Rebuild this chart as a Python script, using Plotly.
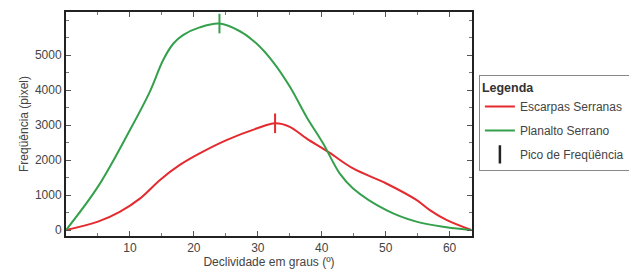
import plotly.graph_objects as go

x_esc = [0, 5, 8.4, 11.6, 14.7, 17.8, 20.9, 25.1, 29.8, 32.7, 35, 37.6, 41.2, 44.9, 50.1, 54.8, 56.9, 59.5, 63.4]
y_esc = [0, 240, 520, 905, 1430, 1860, 2190, 2570, 2900, 3050, 2950, 2620, 2210, 1760, 1330, 860, 570, 290, 0]

x_pla = [0, 5, 10, 13.1, 15.2, 16.8, 18.3, 20.9, 24, 27.2, 29.8, 32.4, 35, 37.6, 40.2, 42.8, 44.9, 50.1, 54.8, 59.5, 63.4]
y_pla = [0, 1240, 2860, 3950, 4860, 5330, 5570, 5790, 5900, 5680, 5330, 4800, 4100, 3240, 2480, 1620, 1190, 570, 240, 80, 0]

peak_x = [32.7, 24]
peak_y = [3050, 5900]

RED = "#e42a2f"
GREEN = "#34a04c"
peak_colors = [RED, GREEN]
FONT = "Liberation Sans, Arial, sans-serif"

fig = go.Figure()
fig.add_trace(go.Scatter(x=x_esc, y=y_esc, mode="lines", name="Escarpas Serranas", legendgroup="a",
                         line=dict(color=RED, width=2, shape="spline", smoothing=1.0)))
fig.add_trace(go.Scatter(x=x_pla, y=y_pla, mode="lines", name="Planalto Serrano", legendgroup="b",
                         line=dict(color=GREEN, width=2, shape="spline", smoothing=1.0)))
fig.add_trace(go.Scatter(x=peak_x, y=peak_y, mode="markers", showlegend=False,
                         marker=dict(symbol="line-ns", size=14,
                                     line=dict(color=peak_colors, width=2))))
fig.add_trace(go.Scatter(x=[None], y=[None], mode="markers", name="Pico de Freqüência", legendgroup="c",
                         marker=dict(symbol="line-ns", size=13, line=dict(color="#222", width=2.5))))

axis_common = dict(showline=True, linecolor="#222", linewidth=2, mirror="ticks",
                   ticks="inside", ticklen=5, tickcolor="#555", showgrid=False, zeroline=False,
                   automargin=False,
                   tickfont=dict(family=FONT, size=12, color="#444"))

fig.update_xaxes(range=[0, 63.5], tickvals=[10, 20, 30, 40, 50, 60],
                 minor=dict(ticks="inside", ticklen=3, dtick=5, tickcolor="#777"),
                 title=dict(text="Declividade em graus (º)", standoff=2,
                            font=dict(family=FONT, size=12, color="#444")),
                 **axis_common)
fig.update_yaxes(range=[-170, 6230], tickvals=[0, 1000, 2000, 3000, 4000, 5000],
                 minor=dict(ticks="inside", ticklen=3, dtick=500, tickcolor="#777"),
                 title=dict(text="Freqüência (pixel)", standoff=4,
                            font=dict(family=FONT, size=12, color="#444")),
                 **axis_common)

# page body has a default 8px margin: compensate so the plot lands where the reference has it
fig.update_layout(
    width=629, height=265,
    margin=dict(l=58, r=165, t=4, b=37, autoexpand=False),
    plot_bgcolor="white", paper_bgcolor="white",
    font=dict(family=FONT, size=12, color="#444"),
    legend=dict(x=1.017, y=0.72, xanchor="left", yanchor="top",
                bordercolor="#888", borderwidth=1, bgcolor="white",
                title=dict(text="<b>Legenda</b>", font=dict(family=FONT, size=12.5, color="#333")),
                font=dict(family=FONT, size=12, color="#444"), itemwidth=30, tracegroupgap=5),
)

fig.write_html("out.html")
